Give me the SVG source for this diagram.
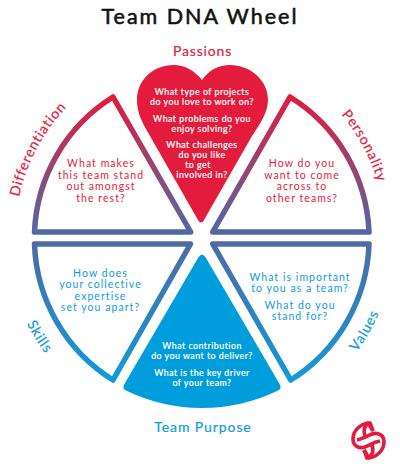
<svg xmlns="http://www.w3.org/2000/svg" width="400" height="475" viewBox="0 0 400 475">
<style>
text{font-family:"Lato","Open Sans",sans-serif;text-anchor:middle}
.title{font-size:21.5px;fill:#111;stroke:#111;stroke-width:.55px;letter-spacing:2px}
.lr{font-size:14px;fill:#e31b3c;stroke:#e31b3c;stroke-width:.2px;letter-spacing:.85px}
.lb{font-size:14px;fill:#0f9bdb;stroke:#0f9bdb;stroke-width:.2px;letter-spacing:.9px}
.tr{font-size:10.5px;fill:#e31b3c;letter-spacing:1.05px}
.tb{font-size:10.5px;fill:#0f9bdb;letter-spacing:1.05px}
.tw{font-size:8.8px;fill:#fff;stroke:#fff;stroke-width:.2px;letter-spacing:.5px}
.slice{fill:#fff;stroke-width:5.5;stroke-linejoin:round}
.top{stroke:url(#gt)}.bot{stroke:url(#gb)}
</style>
<defs>
<linearGradient id="gt" gradientUnits="userSpaceOnUse" x1="0" y1="95" x2="0" y2="235"><stop offset="0" stop-color="#e31b3c"/><stop offset="1" stop-color="#4f6aa3"/></linearGradient>
<linearGradient id="gb" gradientUnits="userSpaceOnUse" x1="0" y1="241" x2="0" y2="382"><stop offset="0" stop-color="#4f6aa3"/><stop offset="1" stop-color="#0f9bdb"/></linearGradient>
<path id="pd" d="M15.1 242.5A186 186 0 0 1 102.4 78.3"/>
<path id="pp" d="M299 78A184 184 0 0 1 385 238"/>
<path id="ps" d="M10.3 276.5A195 195 0 0 0 80.9 389.7"/>
<path id="pv" d="M325.7 384.6A194 194 0 0 0 392 269.7"/>
</defs>
<text class="title" x="200" y="24">Team DNA Wheel</text>
<g id="connectors"/>
<g id="passions">
<path fill="#e31b3c" d="M202 80C194 70 184 65 174 65C153 65 137 80 137 100C137 114 143 124 150 136L198 220Q201 225 204 220L252 136C260 124 268 112 268 100C268 80 250 65 230 65C219 65 209 70 202 80Z"/>
<text class="lr" x="202.5" y="56">Passions</text>
<text class="tw" x="202" y="95">What type of projects</text>
<text class="tw" x="202" y="105">do you love to work on?</text>
<text class="tw" x="202" y="121.5">What problems do you</text>
<text class="tw" x="202" y="132">enjoy solving?</text>
<text class="tw" x="202" y="147.5">What challenges</text>
<text class="tw" x="202" y="157.5">do you like</text>
<text class="tw" x="198" y="167.5">to get</text>
<text class="tw" x="202" y="177.5">involved in?</text>
</g>
<g id="differentiation">
<path class="slice top" d="M113 97A167 167 0 0 0 34.5 232H190.7Z"/>
<text class="lr"><textPath href="#pd" startOffset="50%">Differentiation</textPath></text>
<text class="tr" x="101" y="167">What makes</text>
<text class="tr" x="101" y="178.5">this team stand</text>
<text class="tr" x="101" y="190">out amongst</text>
<text class="tr" x="101" y="201.5">the rest?</text>
</g>
<g id="personality">
<path class="slice top" d="M290 97A167 167 0 0 1 369 232H212.7Z"/>
<text class="lr"><textPath href="#pp" startOffset="50%">Personality</textPath></text>
<text class="tr" x="302" y="167">How do you</text>
<text class="tr" x="302" y="178.5">want to come</text>
<text class="tr" x="302" y="190">across to</text>
<text class="tr" x="302" y="201.5">other teams?</text>
</g>
<g id="skills">
<path class="slice bot" d="M34.5 244H190.5L113 380A167 167 0 0 1 34.5 244Z"/>
<text class="lb"><textPath href="#ps" startOffset="50%">Skills</textPath></text>
<text class="tb" x="100.5" y="276.5">How does</text>
<text class="tb" x="100.5" y="288">your collective</text>
<text class="tb" x="100.5" y="299.5">expertise</text>
<text class="tb" x="100.5" y="311">set you apart?</text>
</g>
<g id="values">
<path class="slice bot" d="M212.7 244H369A167 167 0 0 1 290.7 380Z"/>
<text class="lb"><textPath href="#pv" startOffset="50%">Values</textPath></text>
<text class="tb" x="300" y="280.5">What is important</text>
<text class="tb" x="300" y="292">to you as a team?</text>
<text class="tb" x="300" y="309">What do you</text>
<text class="tb" x="300" y="320">stand for?</text>
</g>
<g id="team-purpose">
<path fill="#009ddc" d="M198 258Q202 251 206 258L279 383Q283 389 277 391A174 174 0 0 1 127 391Q121 389 125 383Z"/>
<text class="lb" x="203" y="432">Team Purpose</text>
<text class="tw" x="202" y="349">What contribution</text>
<text class="tw" x="202" y="359">do you want to deliver?</text>
<text class="tw" x="202" y="376">What is the key driver</text>
<text class="tw" x="202" y="386">of your team?</text>
</g>
<g id="logo" fill="none" stroke="#e31b3c" stroke-width="3.6" stroke-linejoin="round">
<path d="M373 431L368 423C360 424 353 431 353 439C353 446 359 449 365 447C370 445 374 442 380 441"/>
<path d="M364 450L369 458C377 457 384 450 384 442C384 435 378 432 372 434C367 436 363 439 357 440"/>
<path d="M364 450L367 458C373 456 374 450 372 445"/>
<path d="M373 431L370 423C364 425 363 431 365 436"/>
</g>
</svg>
